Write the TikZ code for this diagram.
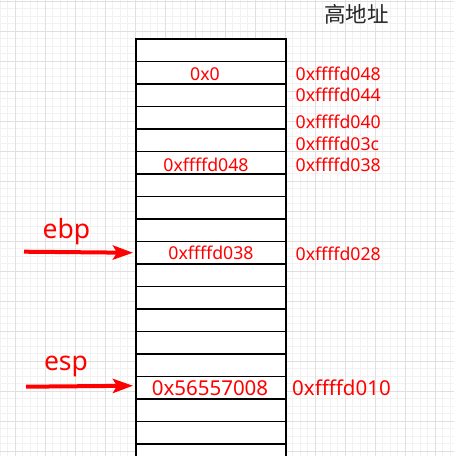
\documentclass[tikz,border=0pt]{standalone}
\usepackage{fontspec}
\setmainfont{Noto Sans}
\newfontfamily\cjk{Noto Sans CJK SC}
\usetikzlibrary{arrows.meta}
\definecolor{minorgrid}{HTML}{F2F2F2}
\definecolor{majorgrid}{HTML}{E0E0E0}
\definecolor{addrred}{HTML}{FF0000}
\tikzset{
  cell/.style={draw=black, line width=1.4pt, fill=white, minimum width=150pt, minimum height=22.5pt, inner sep=0pt, outer sep=0pt},
  val/.style={text=addrred, font=\fontsize{17.7}{20}\selectfont, anchor=base, inner sep=0pt},
  addr/.style={text=addrred, font=\fontsize{17.7}{20}\selectfont, anchor=base west, inner sep=0pt},
  big/.style={font=\fontsize{20.5}{24}\selectfont},
  reg/.style={text=addrred, font=\fontsize{26.5}{30}\selectfont, anchor=base, inner sep=0pt},
  ptr/.style={draw=addrred, line width=4pt, -{Stealth[length=20pt, width=14pt, inset=4pt]}}
}
\begin{document}
\begin{tikzpicture}[x=1pt, y=-1pt]
\useasboundingbox (0,0) rectangle (454,456);
\begin{scope}
\clip (0,0) rectangle (454,456);
\fill[white] (0,0) rectangle (454,456);
\foreach \i in {0,...,61} {
  \draw[minorgrid, line width=0.8pt] (\i*7.5,0) -- (\i*7.5,456);
  \draw[minorgrid, line width=0.8pt] (0,1+\i*7.5) -- (454,1+\i*7.5);
}
\foreach \i in {0,...,15} {
  \draw[majorgrid, line width=1pt] (15+\i*30,0) -- (15+\i*30,456);
  \draw[majorgrid, line width=1pt] (0,1+\i*30) -- (454,1+\i*30);
}
\foreach \r in {0,...,18} {
  \node[cell] (c\r) at (211, 39+22.5*\r+11.25) {};
}
\end{scope}
\node[anchor=north west, inner sep=0pt, font=\cjk\fontsize{21.5}{24}\selectfont, text=black!85] (title) at (324,4) {高地址};
% values inside cells
\node[val] (v1) at (205,80) {0x0};
\node[val] (v5) at (206,171.7) {0xffffd048};
\node[val] (v9) at (211,259.3) {0xffffd038};
\node[val, big] (v15) at (210,395) {0x56557008};
% addresses
\node[addr] (a1) at (295.5,80) {0xffffd048};
\node[addr] (a2) at (295.5,101.7) {0xffffd044};
\node[addr] (a3) at (295.5,128.3) {0xffffd040};
\node[addr] (a4) at (295.5,150) {0xffffd03c};
\node[addr] (a5) at (295.5,171.7) {0xffffd038};
\node[addr] (a9) at (295.5,260) {0xffffd028};
\node[addr, big] (a15) at (292,395.7) {0xffffd010};
% registers
\node[reg] (ebp) at (66.5,238) {ebp};
\node[reg] (esp) at (66,370) {esp};
\coordinate (ebpfrom) at (24,251.7);
\coordinate (espfrom) at (26,386.7);
\coordinate (ebpto) at ([xshift=-3pt]c9.west);
\coordinate (espto) at ([xshift=-3pt, yshift=2pt]c15.west);
\draw[ptr] (ebpfrom) -- (ebpto);
\draw[ptr] (espfrom) -- (espto);
\end{tikzpicture}
\end{document}
